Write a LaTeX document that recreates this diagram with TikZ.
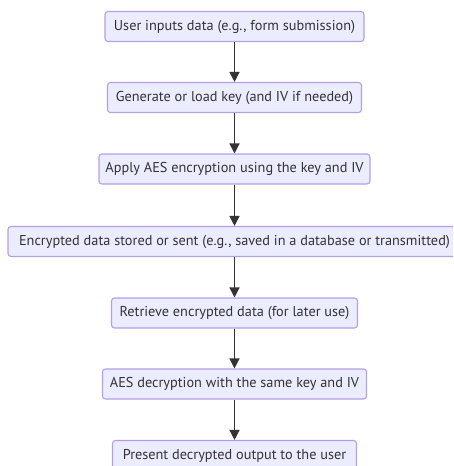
\documentclass[tikz,border=0pt]{standalone}
\usepackage{fontspec}
\setmainfont{PT Sans}
\usetikzlibrary{arrows.meta}
\definecolor{boxfill}{HTML}{ECECFF}
\definecolor{boxline}{HTML}{B49EE8}
\definecolor{arrowc}{HTML}{333333}
\begin{document}
\begin{tikzpicture}[x=1pt,y=-1pt,
  stepbox/.style={draw=boxline, fill=boxfill, line width=1.1pt, rounded corners=3pt,
    minimum height=30pt, inner sep=0pt, font=\fontsize{14.3}{16}\selectfont, text=arrowc},
  flow/.style={draw=arrowc, line width=1.4pt, -{Triangle[length=10pt,width=10pt]}}]
\useasboundingbox (0,0) rectangle (453,466);
\begin{scope}
\clip (0,0) rectangle (453,466);
\node[stepbox, minimum width=259pt] (b1) at (234.5,26.5) {User inputs data (e.g., form submission)};
\node[stepbox, minimum width=254pt] (b2) at (234.5,97.5) {Generate or load key (and IV if needed)};
\node[stepbox, minimum width=271pt] (b3) at (234.5,169) {Apply AES encryption using the key and IV};
\node[stepbox, minimum width=453pt] (b4) at (234.5,241.5) {Encrypted data stored or sent (e.g., saved in a database or transmitted)};
\node[stepbox, minimum width=246pt] (b5) at (234.5,313) {Retrieve encrypted data (for later use)};
\node[stepbox, minimum width=264pt] (b6) at (234.5,384) {AES decryption with the same key and IV};
\node[stepbox, minimum width=244pt] (b7) at (234.5,455.5) {Present decrypted output to the user};
\draw[flow] (b1) -- (b2);
\draw[flow] (b2) -- (b3);
\draw[flow] (b3) -- (b4);
\draw[flow] (b4) -- (b5);
\draw[flow] (b5) -- (b6);
\draw[flow] (b6) -- (b7);
\end{scope}
\end{tikzpicture}
\end{document}
